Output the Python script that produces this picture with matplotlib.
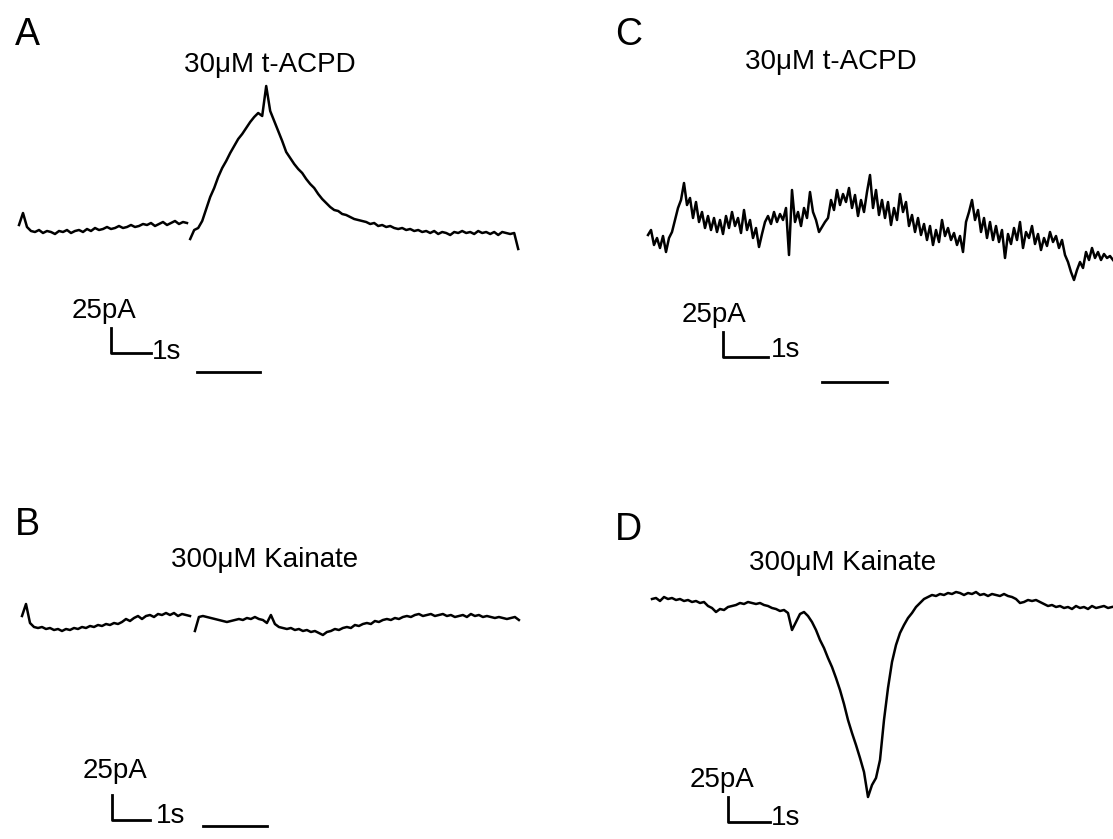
import matplotlib.pyplot as plt
import numpy as np

W, H = 1113, 839

# whole-cell currents (pA, relative to holding level), one sample every few px of trace
# A: 30uM t-ACPD, trace is broken where the drug went on
a_pre = [4, 16, 2, -2, -3, -1, -4, -2, -3, -5, -2, -3, -1, -4, -2, -1, -3, 0, -2, 1,
         -1, 0, 2, 0, 1, 3, 1, 2, 4, 2, 3, 5, 4, 6, 3, 5, 7, 4, 6, 8, 5, 7, 6]
a_post = [-10, -1, 1, 8, 20, 32, 41, 52, 61, 68, 76, 83, 90, 95, 101, 107, 112, 116, 113, 143,
          118, 108, 98, 88, 77, 71, 65, 60, 56, 50, 45, 41, 35, 30, 26, 22, 19, 18, 15, 14,
          12, 10, 9, 8, 7, 5, 6, 3, 4, 2, 3, 1, 0, 1, -1, 0, -2, -1, -3, -2,
          -4, -2, -5, -3, -4, -6, -3, -4, -2, -4, -3, -5, -2, -4, -3, -5, -3, -6, -3, -4,
          -5, -4, -20]
a_post_t0 = 4.28

# B: 300uM kainate
b_pre = [4, 16, -3, -7, -8, -7, -9, -8, -10, -9, -11, -9, -10, -8, -9, -7, -8, -6, -7, -5,
         -6, -4, -5, -3, -4, -2, 1, -1, 2, 4, 1, 4, 5, 3, 6, 5, 7, 5, 7, 4, 6, 5, 4]
b_post = [-11, 3, 4, 3, 2, 1, 0, -1, -2, -1, 0, 1, 0, 2, 1, 3, 1, 0, -3, 5,
          -4, -7, -8, -9, -8, -10, -9, -11, -10, -12, -11, -13, -15, -12, -11, -9, -10, -8, -7, -8,
          -5, -6, -4, -3, -4, -1, -2, 0, 1, 0, 2, 1, 3, 4, 3, 5, 6, 4, 5, 6,
          4, 5, 6, 4, 5, 3, 4, 5, 3, 6, 4, 5, 3, 4, 3, 2, 3, 2, 1, 2, 3, 0]
b_post_t0 = 4.55

# C: 30uM t-ACPD, noisy cell
c_vals = [-5, 0, -15, -8, -18, -6, -22, -8, -2, 10, 22, 30, 47, 25, 32, 12, 28, 8, 18, 2,
          14, 0, 12, -2, 10, -4, 14, 2, 18, 4, 12, -3, 20, 0, 10, -8, 2, -17, -4, 8,
          14, 6, 18, 8, 16, 10, 22, -25, 40, 8, 18, 4, 22, 12, 38, 18, 10, -2, 3, 8,
          12, 30, 20, 40, 25, 36, 28, 42, 22, 35, 14, 30, 18, 38, 55, 22, 40, 15, 30, 12,
          28, 5, 22, 10, 36, 18, 28, 4, 15, -2, 12, -5, 6, -10, 4, -15, 0, -12, 10, -6,
          2, -10, -3, -15, -6, -22, 8, 18, 30, 10, 20, -2, 12, -8, 8, -10, 4, -12, 0, -28,
          -4, -14, 2, -10, 8, -18, -2, -8, 4, -14, -4, -20, -8, -16, -2, -12, -6, -18, -10, -25,
          -32, -42, -50, -40, -32, -38, -22, -30, -18, -28, -22, -30, -24, -28, -26, -30]

# D: 300uM kainate, large inward current
d_vals = [1, 2, -1, 3, 1, 2, 0, 1, -1, 0, -2, -1, -3, -2, -6, -8, -12, -9, -10, -7,
          -6, -5, -3, -4, -2, -3, -4, -3, -5, -6, -8, -9, -11, -10, -13, -30, -22, -14, -12, -16,
          -22, -30, -40, -48, -58, -67, -78, -90, -104, -120, -133, -145, -158, -172, -197, -185, -178, -160, -120, -88,
          -62, -45, -33, -25, -18, -13, -7, -3, 1, 3, 5, 4, 6, 5, 7, 6, 8, 7, 5, 7,
          6, 8, 5, 6, 4, 6, 5, 4, 6, 4, 3, 1, -3, -2, 0, -1, 0, -2, -4, -6,
          -5, -7, -6, -8, -7, -9, -6, -8, -7, -9, -6, -8, -7, -6, -8, -7]

plt.rcParams['font.family'] = ['Liberation Sans', 'DejaVu Sans']
fig = plt.figure(figsize=(W / 100, H / 100), dpi=100)


def px(x, y):
    return x / W, 1 - y / H


def panel(box, x0, y0, px_s, px_pa=1.0):
    # axes over a box of the page, t=0 / I=0 at pixel (x0, y0)
    left, top, right, bottom = box
    ax = fig.add_axes([left / W, 1 - bottom / H, (right - left) / W, (bottom - top) / H])
    ax.set_xlim((left - x0) / px_s, (right - x0) / px_s)
    ax.set_ylim((y0 - bottom) / px_pa, (y0 - top) / px_pa)
    ax.axis('off')
    return ax


def trace(ax, vals, dt, t0=0.0):
    t = t0 + np.arange(len(vals)) * dt
    ax.plot(t, vals, color='black', lw=1.8, solid_joinstyle='round')


def scalebar(ax, t, i, app=None):
    ax.plot([t, t, t + 1], [i + 25, i, i], color='black', lw=2.0)
    if app is not None:
        ax.plot([app[0], app[1]], [app[2], app[2]], color='black', lw=2.0)


ax_a = panel((0, 0, 556, 420), 19, 229, 40)
trace(ax_a, a_pre, 0.1)
trace(ax_a, a_post, 0.1, a_post_t0)
scalebar(ax_a, 2.3, -124, (4.45, 6.03, -143))

ax_b = panel((0, 420, 556, 839), 22, 620, 38)
trace(ax_b, b_pre, 4 / 38)
trace(ax_b, b_post, 4 / 38, b_post_t0)
scalebar(ax_b, 2.37, -200, (4.76, 6.45, -206))

ax_c = panel((556, 0, 1113, 420), 648, 230, 45)
trace(ax_c, c_vals, 3 / 45)
scalebar(ax_c, 1.67, -127, (3.87, 5.31, -152))

ax_d = panel((556, 420, 1113, 839), 652, 600, 42)
trace(ax_d, d_vals, 4 / 42)
scalebar(ax_d, 1.81, -222)

big = dict(fontsize=27, color='black')
txt = dict(fontsize=20, color='black')

fig.text(*px(15, 45), 'A', **big)
fig.text(*px(615, 45), 'C', **big)
fig.text(*px(15, 535), 'B', **big)
fig.text(*px(615, 540), 'D', **big)

fig.text(*px(270, 65), '30μM t-ACPD', ha='center', va='center', **txt)
fig.text(*px(831, 62), '30μM t-ACPD', ha='center', va='center', **txt)
fig.text(*px(265, 560), '300μM Kainate', ha='center', va='center', **txt)
fig.text(*px(843, 563), '300μM Kainate', ha='center', va='center', **txt)

for x, y in [(72, 318), (83, 778), (682, 322), (690, 787)]:
    fig.text(*px(x, y), '25pA', va='baseline', **txt)
for x, y in [(152, 352), (156, 816), (771, 350), (771, 818)]:
    fig.text(*px(x, y), '1s', va='center', **txt)

fig.savefig('out.png', dpi=100)
